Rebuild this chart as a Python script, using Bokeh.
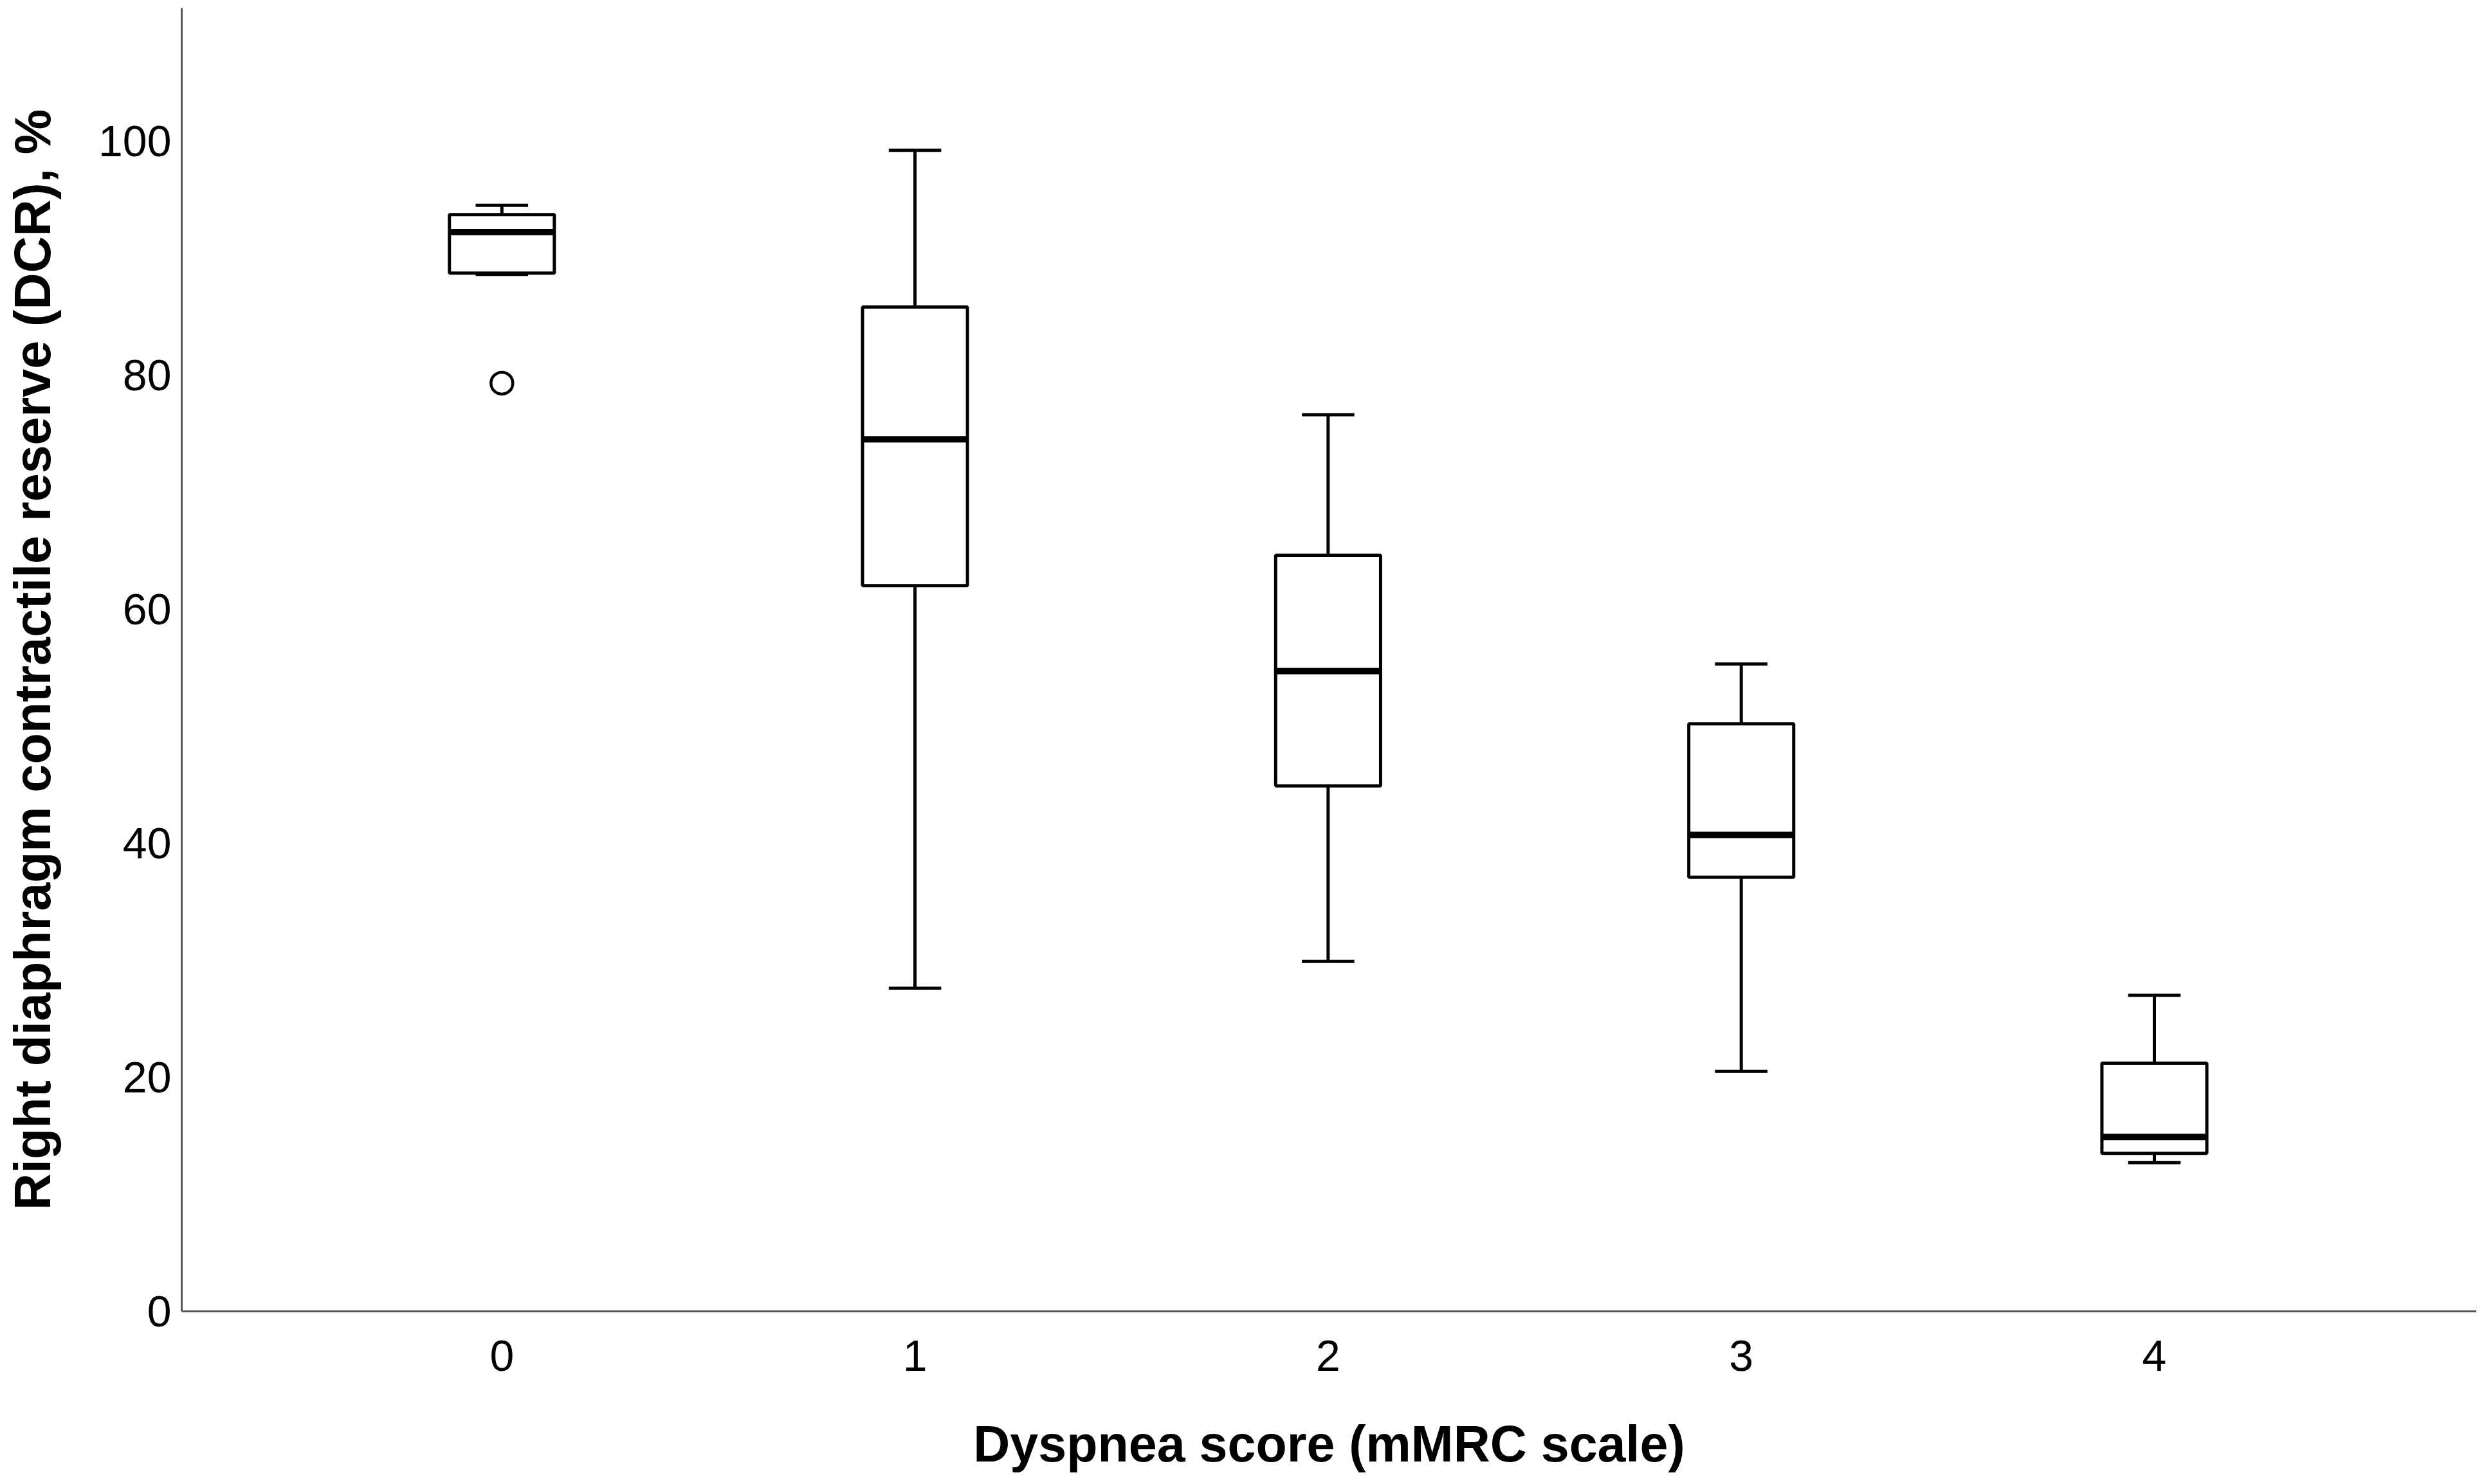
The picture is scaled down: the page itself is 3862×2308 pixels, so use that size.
from bokeh.plotting import figure
from bokeh.models import Range1d, FixedTicker, ColumnDataSource
from bokeh.transform import dodge
from bokeh.embed import file_html
from bokeh.resources import INLINE

# ---- data ----
categories = ["0", "1", "2", "3", "4"]
positions = [0, 1, 2, 3, 4]
lower_whisker = [88.6, 27.6, 29.9, 20.5, 12.7]
q1 = [88.7, 62.0, 44.9, 37.1, 13.5]
median = [92.2, 74.5, 54.7, 40.7, 14.9]
q3 = [93.7, 85.8, 64.6, 50.2, 21.2]
upper_whisker = [94.5, 99.2, 76.6, 55.3, 27.0]
outlier_x = [0]
outlier_y = [79.3]
y_ticks = [0, 20, 40, 60, 80, 100]

BOX_W = 0.254
CAP_W = 0.127
LW = 5

src = ColumnDataSource(dict(x=positions, lo=lower_whisker, q1=q1, med=median,
                            q3=q3, hi=upper_whisker))

p = figure(width=3850, height=2292, output_backend="svg", toolbar_location=None,
           x_range=Range1d(-0.775, 4.78), y_range=Range1d(0, 111.35),
           min_border_left=282, min_border_right=0, min_border_top=12,
           min_border_bottom=252)
p.outline_line_color = None
p.xgrid.visible = False
p.ygrid.visible = False
p.background_fill_color = "white"

# whiskers
p.segment(x0="x", y0="q3", x1="x", y1="hi", source=src, line_color="black", line_width=LW)
p.segment(x0="x", y0="q1", x1="x", y1="lo", source=src, line_color="black", line_width=LW)
# caps
p.segment(x0=dodge("x", -CAP_W / 2), y0="hi", x1=dodge("x", CAP_W / 2), y1="hi",
          source=src, line_color="black", line_width=LW)
p.segment(x0=dodge("x", -CAP_W / 2), y0="lo", x1=dodge("x", CAP_W / 2), y1="lo",
          source=src, line_color="black", line_width=LW)
# boxes
p.vbar(x="x", width=BOX_W, bottom="q1", top="q3", source=src, fill_color="white",
       line_color="black", line_width=LW)
# medians
p.segment(x0=dodge("x", -BOX_W / 2), y0="med", x1=dodge("x", BOX_W / 2), y1="med",
          source=src, line_color="black", line_width=10)
# outlier
p.scatter(x=outlier_x, y=outlier_y, marker="circle", size=34, fill_color="white",
          line_color="black", line_width=4.5)

# axes
for ax in (p.xaxis[0], p.yaxis[0]):
    ax.axis_line_color = "#555555"
    ax.axis_line_width = 3
    ax.major_tick_line_color = None
    ax.minor_tick_line_color = None
    ax.major_tick_out = 0
    ax.major_tick_in = 0
    ax.major_label_text_font = "Liberation Sans"
    ax.major_label_text_font_size = "68px"
    ax.major_label_text_color = "black"
    ax.axis_label_text_font = "Liberation Sans"
    ax.axis_label_text_font_style = "bold"
    ax.axis_label_text_font_size = "79px"
    ax.axis_label_text_color = "black"

p.xaxis.ticker = FixedTicker(ticks=positions)
p.xaxis.major_label_overrides = {pos: lab for pos, lab in zip(positions, categories)}
p.xaxis.major_label_standoff = 45
p.xaxis.axis_label = "Dyspnea score (mMRC scale)"
p.xaxis.axis_label_standoff = 66

p.yaxis.ticker = FixedTicker(ticks=y_ticks)
p.yaxis.major_label_standoff = 16
p.yaxis.axis_label = "Right diaphragm contractile reserve (DCR), %"
p.yaxis.axis_label_standoff = 55

open("out.html", "w").write(file_html(p, INLINE))
